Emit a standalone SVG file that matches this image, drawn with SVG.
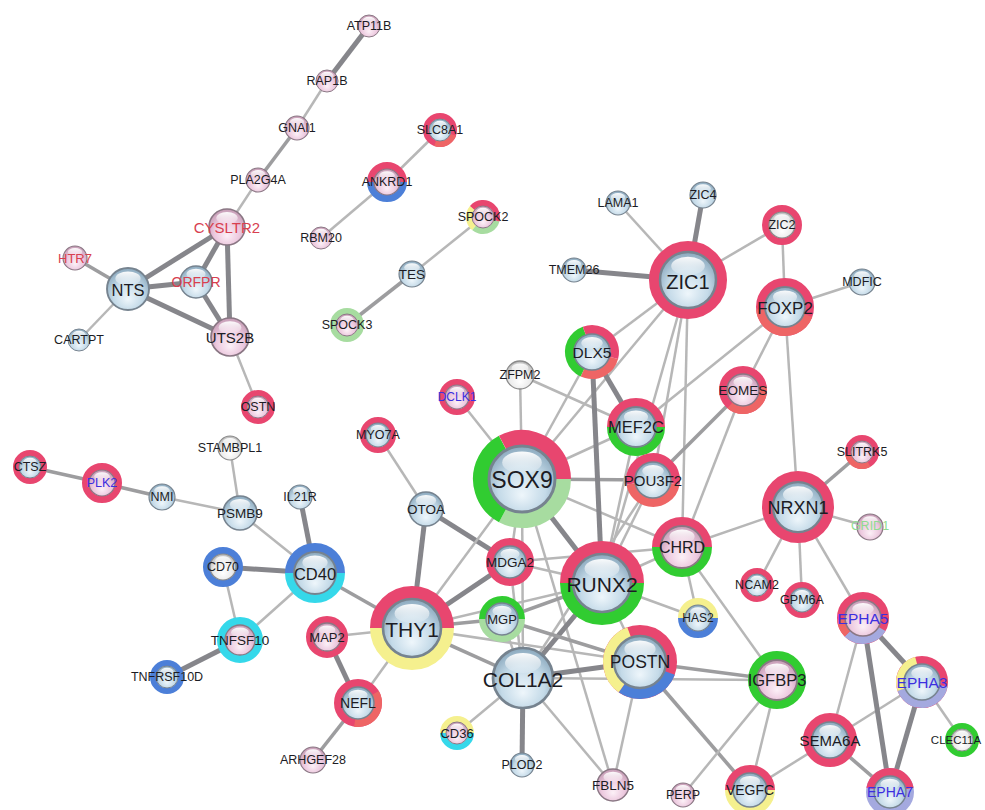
<svg xmlns="http://www.w3.org/2000/svg" xmlns:xlink="http://www.w3.org/1999/xlink" width="985" height="810" viewBox="0 0 985 810">
<style>
.a{stroke:#b7b7b7;stroke-width:2.5}
.b{stroke:#9d9d9f;stroke-width:3.6}
.c{stroke:#86868b;stroke-width:5}
.rR{fill:none;stroke:#e8466f}
.rS{fill:none;stroke:#ee6565}
.rG{fill:none;stroke:#31cc31}
.rL{fill:none;stroke:#a7dca0}
.rY{fill:none;stroke:#f5f08e}
.rB{fill:none;stroke:#4c7fd8}
.rC{fill:none;stroke:#35d8ea}
.rV{fill:none;stroke:#a4a9df}
text{font-family:"Liberation Sans",Arial,sans-serif;text-anchor:middle;dominant-baseline:central;fill:#1c1c24}
.red{fill:#d8404f}
.blu{fill:#3c2fe0}
.grn{fill:#90dc90}
</style>
<defs>
<radialGradient id="gB" cx="0.5" cy="0.6" r="0.6" fx="0.5" fy="0.75">
<stop offset="0" stop-color="#eef6fb"/><stop offset="0.6" stop-color="#c4dae8"/><stop offset="1" stop-color="#8aa8bd"/>
</radialGradient>
<radialGradient id="gP" cx="0.5" cy="0.6" r="0.6" fx="0.5" fy="0.75">
<stop offset="0" stop-color="#fcf0f7"/><stop offset="0.6" stop-color="#ecc8de"/><stop offset="1" stop-color="#c49bb4"/>
</radialGradient>
<radialGradient id="gW" cx="0.5" cy="0.6" r="0.6" fx="0.5" fy="0.75">
<stop offset="0" stop-color="#ffffff"/><stop offset="0.6" stop-color="#ececec"/><stop offset="1" stop-color="#b8b8b8"/>
</radialGradient>
<linearGradient id="gH" x1="0" y1="0" x2="0" y2="1">
<stop offset="0" stop-color="#fff" stop-opacity="0.95"/><stop offset="1" stop-color="#fff" stop-opacity="0.15"/>
</linearGradient>
<g id="sB"><circle r="10" fill="url(#gB)" stroke="#76838f" stroke-width="0.9"/><ellipse cy="-5" rx="6" ry="3.3" fill="url(#gH)"/></g>
<g id="sP"><circle r="10" fill="url(#gP)" stroke="#8a7784" stroke-width="0.9"/><ellipse cy="-5" rx="6" ry="3.3" fill="url(#gH)"/></g>
<g id="sW"><circle r="10" fill="url(#gW)" stroke="#8a8a8a" stroke-width="0.9"/><ellipse cy="-5" rx="6" ry="3.3" fill="url(#gH)"/></g>
</defs>
<rect width="985" height="810" fill="#ffffff"/>
<g id="edges">
<line class="c" x1="369" y1="26" x2="327" y2="81"/>
<line class="a" x1="327" y1="81" x2="297" y2="128"/>
<line class="b" x1="297" y1="128" x2="258" y2="180"/>
<line class="a" x1="258" y1="180" x2="227" y2="227"/>
<line class="c" x1="227" y1="227" x2="128" y2="289"/>
<line class="c" x1="227" y1="227" x2="196" y2="282"/>
<line class="c" x1="227" y1="227" x2="230" y2="337"/>
<line class="c" x1="128" y1="289" x2="196" y2="282"/>
<line class="c" x1="128" y1="289" x2="230" y2="337"/>
<line class="c" x1="196" y1="282" x2="230" y2="337"/>
<line class="b" x1="75" y1="258" x2="128" y2="289"/>
<line class="a" x1="128" y1="289" x2="79" y2="340"/>
<line class="a" x1="230" y1="337" x2="258" y2="407"/>
<line class="a" x1="440" y1="130" x2="387" y2="182"/>
<line class="a" x1="387" y1="182" x2="321" y2="238"/>
<line class="a" x1="483" y1="217" x2="412" y2="274"/>
<line class="b" x1="412" y1="274" x2="347" y2="325"/>
<line class="b" x1="30" y1="467" x2="102" y2="483"/>
<line class="b" x1="102" y1="483" x2="162" y2="497"/>
<line class="a" x1="162" y1="497" x2="240" y2="513"/>
<line class="a" x1="230" y1="448" x2="240" y2="513"/>
<line class="a" x1="240" y1="513" x2="315" y2="573"/>
<line class="c" x1="300" y1="497" x2="315" y2="573"/>
<line class="c" x1="223" y1="567" x2="315" y2="573"/>
<line class="a" x1="223" y1="567" x2="240" y2="640"/>
<line class="a" x1="315" y1="573" x2="240" y2="640"/>
<line class="c" x1="240" y1="640" x2="167" y2="677"/>
<line class="b" x1="315" y1="573" x2="412" y2="628"/>
<line class="a" x1="327" y1="637" x2="412" y2="628"/>
<line class="c" x1="327" y1="637" x2="358" y2="703"/>
<line class="a" x1="358" y1="703" x2="412" y2="628"/>
<line class="b" x1="358" y1="703" x2="313" y2="760"/>
<line class="a" x1="378" y1="435" x2="426" y2="509"/>
<line class="c" x1="426" y1="509" x2="412" y2="628"/>
<line class="c" x1="426" y1="509" x2="510" y2="562"/>
<line class="c" x1="412" y1="628" x2="510" y2="562"/>
<line class="a" x1="412" y1="628" x2="522" y2="479"/>
<line class="b" x1="412" y1="628" x2="502" y2="619"/>
<line class="a" x1="412" y1="628" x2="602" y2="583"/>
<line class="b" x1="412" y1="628" x2="523" y2="678"/>
<line class="a" x1="412" y1="628" x2="640" y2="662"/>
<line class="a" x1="522" y1="479" x2="520" y2="375"/>
<line class="a" x1="522" y1="479" x2="457" y2="397"/>
<line class="a" x1="522" y1="479" x2="592" y2="352"/>
<line class="a" x1="522" y1="479" x2="688" y2="280"/>
<line class="a" x1="522" y1="479" x2="636" y2="427"/>
<line class="b" x1="522" y1="479" x2="653" y2="480"/>
<line class="c" x1="522" y1="479" x2="602" y2="583"/>
<line class="a" x1="522" y1="479" x2="682" y2="547"/>
<line class="a" x1="522" y1="479" x2="510" y2="562"/>
<line class="a" x1="522" y1="479" x2="523" y2="678"/>
<line class="a" x1="522" y1="479" x2="613" y2="785"/>
<line class="a" x1="520" y1="375" x2="636" y2="427"/>
<line class="a" x1="592" y1="352" x2="688" y2="280"/>
<line class="c" x1="592" y1="352" x2="636" y2="427"/>
<line class="c" x1="592" y1="352" x2="602" y2="583"/>
<line class="a" x1="688" y1="280" x2="618" y2="203"/>
<line class="c" x1="688" y1="280" x2="703" y2="195"/>
<line class="c" x1="688" y1="280" x2="574" y2="270"/>
<line class="a" x1="688" y1="280" x2="782" y2="225"/>
<line class="a" x1="688" y1="280" x2="653" y2="480"/>
<line class="a" x1="688" y1="280" x2="682" y2="547"/>
<line class="a" x1="688" y1="280" x2="602" y2="583"/>
<line class="a" x1="782" y1="225" x2="785" y2="307"/>
<line class="a" x1="785" y1="307" x2="862" y2="282"/>
<line class="a" x1="785" y1="307" x2="743" y2="390"/>
<line class="a" x1="785" y1="307" x2="798" y2="507"/>
<line class="a" x1="785" y1="307" x2="636" y2="427"/>
<line class="b" x1="743" y1="390" x2="653" y2="480"/>
<line class="a" x1="743" y1="390" x2="682" y2="547"/>
<line class="a" x1="798" y1="507" x2="682" y2="547"/>
<line class="b" x1="798" y1="507" x2="862" y2="452"/>
<line class="a" x1="798" y1="507" x2="870" y2="527"/>
<line class="a" x1="798" y1="507" x2="757" y2="585"/>
<line class="a" x1="798" y1="507" x2="802" y2="600"/>
<line class="a" x1="798" y1="507" x2="863" y2="618"/>
<line class="a" x1="682" y1="547" x2="698" y2="618"/>
<line class="a" x1="682" y1="547" x2="777" y2="680"/>
<line class="a" x1="682" y1="547" x2="602" y2="583"/>
<line class="a" x1="682" y1="547" x2="510" y2="562"/>
<line class="a" x1="602" y1="583" x2="698" y2="618"/>
<line class="a" x1="602" y1="583" x2="640" y2="662"/>
<line class="c" x1="602" y1="583" x2="523" y2="678"/>
<line class="b" x1="602" y1="583" x2="502" y2="619"/>
<line class="a" x1="602" y1="583" x2="510" y2="562"/>
<line class="a" x1="636" y1="427" x2="602" y2="583"/>
<line class="a" x1="653" y1="480" x2="602" y2="583"/>
<line class="a" x1="653" y1="480" x2="523" y2="678"/>
<line class="a" x1="502" y1="619" x2="523" y2="678"/>
<line class="b" x1="502" y1="619" x2="640" y2="662"/>
<line class="a" x1="510" y1="562" x2="523" y2="678"/>
<line class="c" x1="523" y1="678" x2="640" y2="662"/>
<line class="a" x1="523" y1="678" x2="457" y2="733"/>
<line class="c" x1="523" y1="678" x2="522" y2="765"/>
<line class="a" x1="523" y1="678" x2="613" y2="785"/>
<line class="a" x1="523" y1="678" x2="777" y2="680"/>
<line class="a" x1="640" y1="662" x2="613" y2="785"/>
<line class="b" x1="640" y1="662" x2="777" y2="680"/>
<line class="b" x1="640" y1="662" x2="750" y2="790"/>
<line class="a" x1="777" y1="680" x2="750" y2="790"/>
<line class="a" x1="777" y1="680" x2="683" y2="795"/>
<line class="a" x1="830" y1="740" x2="750" y2="790"/>
<line class="a" x1="830" y1="740" x2="863" y2="618"/>
<line class="a" x1="830" y1="740" x2="922" y2="682"/>
<line class="b" x1="830" y1="740" x2="890" y2="792"/>
<line class="c" x1="863" y1="618" x2="922" y2="682"/>
<line class="c" x1="863" y1="618" x2="890" y2="792"/>
<line class="c" x1="922" y1="682" x2="890" y2="792"/>
<line class="a" x1="922" y1="682" x2="962" y2="740"/>
</g>
<g id="nodes" font-size="12.5">
<g id="ATP11B"><use href="#sP" transform="translate(369 26) scale(1.1)"/><text x="369" y="26">ATP11B</text></g>
<g id="RAP1B"><use href="#sP" transform="translate(327 81) scale(1.1)"/><text x="327" y="81">RAP1B</text></g>
<g id="GNAI1"><use href="#sP" transform="translate(297 128) scale(1.2)"/><text x="297" y="128">GNAI1</text></g>
<g id="PLA2G4A"><use href="#sP" transform="translate(258 180) scale(1.2)"/><text x="258" y="180">PLA2G4A</text></g>
<g id="CYSLTR2"><use href="#sP" transform="translate(227 227) scale(1.8)"/><text class="red" x="227" y="227" font-size="15">CYSLTR2</text></g>
<g id="HTR7"><use href="#sP" transform="translate(75 258) scale(1.2)"/><text class="red" x="75" y="258" font-size="13">HTR7</text></g>
<g id="NTS"><use href="#sB" transform="translate(128 289) scale(2.1)"/><text x="128" y="290" font-size="16.5">NTS</text></g>
<g id="ORFPR"><use href="#sB" transform="translate(196 282) scale(1.6)"/><text class="red" x="196" y="282" font-size="14">ORFPR</text></g>
<g id="UTS2B"><use href="#sP" transform="translate(230 337) scale(1.9)"/><text x="230" y="337" font-size="15">UTS2B</text></g>
<g id="CARTPT"><use href="#sB" transform="translate(79 340) scale(1.1)"/><text x="79" y="340">CARTPT</text></g>
<g id="OSTN"><circle class="rR" cx="258" cy="407" r="14" stroke-width="6"/><use href="#sP" transform="translate(258 407) scale(1.1)"/><text x="258" y="407">OSTN</text></g>
<g id="RBM20"><use href="#sP" transform="translate(321 238) scale(1.1)"/><text x="321" y="238">RBM20</text></g>
<g id="SLC8A1"><circle class="rR" cx="440" cy="130" r="14" stroke-width="6"/><circle class="rS" cx="440" cy="130" r="14" stroke-width="6" pathLength="100" stroke-dasharray="25 100" transform="rotate(20 440 130)"/><use href="#sB" transform="translate(440 130) scale(1.1)"/><text x="440" y="130">SLC8A1</text></g>
<g id="ANKRD1"><circle class="rR" cx="387" cy="182" r="16.5" stroke-width="7" pathLength="100" stroke-dasharray="50 100" transform="rotate(180 387 182)"/><circle class="rB" cx="387" cy="182" r="16.5" stroke-width="7" pathLength="100" stroke-dasharray="50 100"/><use href="#sP" transform="translate(387 182) scale(1.3)"/><text x="387" y="182">ANKRD1</text></g>
<g id="SPOCK2"><circle class="rL" cx="483" cy="217" r="14" stroke-width="6" pathLength="100" stroke-dasharray="32 100" transform="rotate(15 483 217)"/><circle class="rY" cx="483" cy="217" r="14" stroke-width="6" pathLength="100" stroke-dasharray="25 100" transform="rotate(130 483 217)"/><circle class="rR" cx="483" cy="217" r="14" stroke-width="6" pathLength="100" stroke-dasharray="43.2 100" transform="rotate(220 483 217)"/><use href="#sP" transform="translate(483 217) scale(1.1)"/><text x="483" y="217">SPOCK2</text></g>
<g id="TES"><use href="#sB" transform="translate(412 274) scale(1.3)"/><text x="412" y="274" font-size="13.5">TES</text></g>
<g id="SPOCK3"><circle class="rL" cx="347" cy="325" r="14" stroke-width="6"/><use href="#sP" transform="translate(347 325) scale(1.1)"/><text x="347" y="325">SPOCK3</text></g>
<g id="LAMA1"><use href="#sB" transform="translate(618 203) scale(1.2)"/><text x="618" y="203">LAMA1</text></g>
<g id="ZIC4"><use href="#sB" transform="translate(703 195) scale(1.3)"/><text x="703" y="195">ZIC4</text></g>
<g id="TMEM26"><use href="#sB" transform="translate(574 270) scale(1.2)"/><text x="574" y="270">TMEM26</text></g>
<g id="ZIC2"><circle class="rR" cx="782" cy="225" r="16.5" stroke-width="7"/><use href="#sW" transform="translate(782 225) scale(1.3)"/><text x="782" y="225">ZIC2</text></g>
<g id="ZIC1"><circle class="rR" cx="688" cy="280" r="33.5" stroke-width="11"/><use href="#sB" transform="translate(688 280) scale(2.8)"/><text x="688" y="282" font-size="20">ZIC1</text></g>
<g id="FOXP2"><circle class="rR" cx="785" cy="307" r="24.5" stroke-width="9"/><circle class="rS" cx="785" cy="307" r="24.5" stroke-width="9" pathLength="100" stroke-dasharray="43 100" transform="rotate(20 785 307)"/><use href="#sB" transform="translate(785 307) scale(2)"/><text x="785" y="308" font-size="17">FOXP2</text></g>
<g id="MDFIC"><use href="#sB" transform="translate(862 282) scale(1.3)"/><text x="862" y="282">MDFIC</text></g>
<g id="EOMES"><circle class="rR" cx="743" cy="390" r="20" stroke-width="8"/><circle class="rS" cx="743" cy="390" r="20" stroke-width="8" pathLength="100" stroke-dasharray="39 100" transform="rotate(-10 743 390)"/><use href="#sP" transform="translate(743 390) scale(1.6)"/><text x="743" y="390" font-size="13.5">EOMES</text></g>
<g id="DLX5"><circle class="rS" cx="592" cy="352" r="22.5" stroke-width="9" pathLength="100" stroke-dasharray="27.8 100" transform="rotate(15 592 352)"/><circle class="rG" cx="592" cy="352" r="22.5" stroke-width="9" pathLength="100" stroke-dasharray="37.5 100" transform="rotate(115 592 352)"/><circle class="rR" cx="592" cy="352" r="22.5" stroke-width="9" pathLength="100" stroke-dasharray="34.8 100" transform="rotate(250 592 352)"/><use href="#sB" transform="translate(592 352) scale(1.8)"/><text x="592" y="352" font-size="15.5">DLX5</text></g>
<g id="ZFPM2"><use href="#sW" transform="translate(520 375) scale(1.4)"/><text x="520" y="375">ZFPM2</text></g>
<g id="DCLK1"><circle class="rR" cx="457" cy="397" r="15" stroke-width="6"/><use href="#sP" transform="translate(457 397) scale(1.2)"/><text class="blu" x="457" y="397" font-size="12">DCLK1</text></g>
<g id="MYO7A"><circle class="rR" cx="378" cy="435" r="15" stroke-width="6"/><use href="#sB" transform="translate(378 435) scale(1.2)"/><text x="378" y="435">MYO7A</text></g>
<g id="MEF2C"><circle class="rR" cx="636" cy="427" r="24.5" stroke-width="9" pathLength="100" stroke-dasharray="50 100" transform="rotate(180 636 427)"/><circle class="rG" cx="636" cy="427" r="24.5" stroke-width="9" pathLength="100" stroke-dasharray="50 100"/><use href="#sB" transform="translate(636 427) scale(2)"/><text x="636" y="427" font-size="16.5">MEF2C</text></g>
<g id="SOX9"><circle class="rL" cx="522" cy="479" r="41" stroke-width="16" pathLength="100" stroke-dasharray="32.8 100"/><circle class="rG" cx="522" cy="479" r="41" stroke-width="16" pathLength="100" stroke-dasharray="34.4 100" transform="rotate(118 522 479)"/><circle class="rR" cx="522" cy="479" r="41" stroke-width="16" pathLength="100" stroke-dasharray="32.8 100" transform="rotate(242 522 479)"/><use href="#sB" transform="translate(522 479) scale(3.3)"/><text x="522" y="480" font-size="23">SOX9</text></g>
<g id="POU3F2"><circle class="rR" cx="653" cy="480" r="22.5" stroke-width="9" pathLength="100" stroke-dasharray="55.6 100" transform="rotate(170 653 480)"/><circle class="rS" cx="653" cy="480" r="22.5" stroke-width="9" pathLength="100" stroke-dasharray="44.4 100" transform="rotate(10 653 480)"/><use href="#sB" transform="translate(653 480) scale(1.8)"/><text x="653" y="480" font-size="15">POU3F2</text></g>
<g id="STAMBPL1"><use href="#sW" transform="translate(230 448) scale(1.2)"/><text x="230" y="448">STAMBPL1</text></g>
<g id="CTSZ"><circle class="rR" cx="30" cy="467" r="14" stroke-width="6"/><use href="#sB" transform="translate(30 467) scale(1.1)"/><text x="30" y="467">CTSZ</text></g>
<g id="PLK2"><circle class="rR" cx="102" cy="483" r="16.5" stroke-width="7"/><use href="#sP" transform="translate(102 483) scale(1.3)"/><text class="blu" x="102" y="483">PLK2</text></g>
<g id="NMI"><use href="#sB" transform="translate(162 497) scale(1.3)"/><text x="162" y="497">NMI</text></g>
<g id="PSMB9"><use href="#sB" transform="translate(240 513) scale(1.7)"/><text x="240" y="513" font-size="13.5">PSMB9</text></g>
<g id="IL21R"><use href="#sB" transform="translate(300 497) scale(1.2)"/><text x="300" y="497">IL21R</text></g>
<g id="OTOA"><use href="#sB" transform="translate(426 509) scale(1.7)"/><text x="426" y="509" font-size="13.5">OTOA</text></g>
<g id="SLITRK5"><circle class="rR" cx="862" cy="452" r="14" stroke-width="6"/><circle class="rS" cx="862" cy="452" r="14" stroke-width="6" pathLength="100" stroke-dasharray="30.6 100" transform="rotate(60 862 452)"/><use href="#sP" transform="translate(862 452) scale(1.1)"/><text x="862" y="452">SLITRK5</text></g>
<g id="NRXN1"><circle class="rR" cx="798" cy="507" r="30.5" stroke-width="11"/><use href="#sB" transform="translate(798 507) scale(2.5)"/><text x="798" y="508" font-size="18">NRXN1</text></g>
<g id="GRID1"><use href="#sP" transform="translate(870 527) scale(1.3)"/><text class="grn" x="870" y="526">GRID1</text></g>
<g id="CHRD"><circle class="rR" cx="682" cy="547" r="25.5" stroke-width="9" pathLength="100" stroke-dasharray="50 100" transform="rotate(180 682 547)"/><circle class="rG" cx="682" cy="547" r="25.5" stroke-width="9" pathLength="100" stroke-dasharray="50 100"/><use href="#sP" transform="translate(682 547) scale(2.1)"/><text x="682" y="547" font-size="16">CHRD</text></g>
<g id="MDGA2"><circle class="rR" cx="510" cy="562" r="20" stroke-width="8"/><use href="#sB" transform="translate(510 562) scale(1.6)"/><text x="510" y="562" font-size="13.5">MDGA2</text></g>
<g id="RUNX2"><circle class="rR" cx="602" cy="583" r="35.5" stroke-width="13" pathLength="100" stroke-dasharray="50 100" transform="rotate(180 602 583)"/><circle class="rG" cx="602" cy="583" r="35.5" stroke-width="13" pathLength="100" stroke-dasharray="50 100"/><use href="#sB" transform="translate(602 583) scale(2.9)"/><text x="602" y="584" font-size="21">RUNX2</text></g>
<g id="CD70"><circle class="rB" cx="223" cy="567" r="16.5" stroke-width="7"/><use href="#sW" transform="translate(223 567) scale(1.3)"/><text x="223" y="567">CD70</text></g>
<g id="CD40"><circle class="rB" cx="315" cy="573" r="25.5" stroke-width="9" pathLength="100" stroke-dasharray="50 100" transform="rotate(180 315 573)"/><circle class="rC" cx="315" cy="573" r="25.5" stroke-width="9" pathLength="100" stroke-dasharray="50 100"/><use href="#sB" transform="translate(315 573) scale(2.1)"/><text x="315" y="574" font-size="16.5">CD40</text></g>
<g id="NCAM2"><circle class="rR" cx="757" cy="585" r="14" stroke-width="6"/><use href="#sB" transform="translate(757 585) scale(1.1)"/><text x="757" y="585">NCAM2</text></g>
<g id="GPM6A"><circle class="rR" cx="802" cy="600" r="15" stroke-width="6"/><use href="#sB" transform="translate(802 600) scale(1.2)"/><text x="802" y="600">GPM6A</text></g>
<g id="HAS2"><circle class="rY" cx="698" cy="618" r="16.5" stroke-width="7" pathLength="100" stroke-dasharray="50 100" transform="rotate(180 698 618)"/><circle class="rB" cx="698" cy="618" r="16.5" stroke-width="7" pathLength="100" stroke-dasharray="50 100"/><use href="#sB" transform="translate(698 618) scale(1.3)"/><text x="698" y="618" font-size="12">HAS2</text></g>
<g id="MGP"><circle class="rG" cx="502" cy="619" r="19.5" stroke-width="7" pathLength="100" stroke-dasharray="50 100" transform="rotate(180 502 619)"/><circle class="rL" cx="502" cy="619" r="19.5" stroke-width="7" pathLength="100" stroke-dasharray="50 100"/><use href="#sB" transform="translate(502 619) scale(1.6)"/><text x="502" y="619" font-size="13">MGP</text></g>
<g id="THY1"><circle class="rR" cx="412" cy="628" r="35.5" stroke-width="13" pathLength="100" stroke-dasharray="50 100" transform="rotate(180 412 628)"/><circle class="rY" cx="412" cy="628" r="35.5" stroke-width="13" pathLength="100" stroke-dasharray="50 100"/><use href="#sB" transform="translate(412 628) scale(2.9)"/><text x="412" y="629" font-size="21">THY1</text></g>
<g id="EPHA5"><circle class="rR" cx="863" cy="618" r="22" stroke-width="8"/><circle class="rV" cx="863" cy="618" r="22" stroke-width="8" pathLength="100" stroke-dasharray="29.2 100" transform="rotate(30 863 618)"/><circle class="rS" cx="863" cy="618" r="22" stroke-width="8" pathLength="100" stroke-dasharray="11.1 100" transform="rotate(135 863 618)"/><use href="#sP" transform="translate(863 618) scale(1.8)"/><text class="blu" x="863" y="618" font-size="15.5">EPHA5</text></g>
<g id="TNFSF10"><circle class="rC" cx="240" cy="640" r="19" stroke-width="8"/><use href="#sP" transform="translate(240 640) scale(1.5)"/><text x="240" y="640" font-size="13.5">TNFSF10</text></g>
<g id="MAP2"><circle class="rR" cx="327" cy="637" r="17.5" stroke-width="7"/><use href="#sP" transform="translate(327 637) scale(1.4)"/><text x="327" y="637" font-size="13">MAP2</text></g>
<g id="TNFRSF10D"><circle class="rB" cx="167" cy="677" r="14" stroke-width="6"/><use href="#sB" transform="translate(167 677) scale(1.1)"/><text x="167" y="677">TNFRSF10D</text></g>
<g id="POSTN"><circle class="rR" cx="640" cy="662" r="31.5" stroke-width="11"/><circle class="rB" cx="640" cy="662" r="31.5" stroke-width="11" pathLength="100" stroke-dasharray="29.2 100" transform="rotate(20 640 662)"/><circle class="rY" cx="640" cy="662" r="31.5" stroke-width="11" pathLength="100" stroke-dasharray="34.7 100" transform="rotate(125 640 662)"/><use href="#sB" transform="translate(640 662) scale(2.6)"/><text x="640" y="662" font-size="17.5">POSTN</text></g>
<g id="COL1A2"><use href="#sB" transform="translate(523 678) scale(3)"/><text x="523" y="679" font-size="21">COL1A2</text></g>
<g id="IGFBP3"><circle class="rG" cx="777" cy="680" r="24.5" stroke-width="9"/><use href="#sP" transform="translate(777 680) scale(2)"/><text x="777" y="680" font-size="16.5">IGFBP3</text></g>
<g id="EPHA3"><circle class="rR" cx="922" cy="682" r="22" stroke-width="8"/><circle class="rV" cx="922" cy="682" r="22" stroke-width="8" pathLength="100" stroke-dasharray="41.7 100" transform="rotate(10 922 682)"/><circle class="rY" cx="922" cy="682" r="22" stroke-width="8" pathLength="100" stroke-dasharray="26.4 100" transform="rotate(160 922 682)"/><use href="#sB" transform="translate(922 682) scale(1.8)"/><text class="blu" x="922" y="682" font-size="15.5">EPHA3</text></g>
<g id="NEFL"><circle class="rR" cx="358" cy="703" r="20" stroke-width="8"/><circle class="rS" cx="358" cy="703" r="20" stroke-width="8" pathLength="100" stroke-dasharray="36 100" transform="rotate(-30 358 703)"/><use href="#sB" transform="translate(358 703) scale(1.6)"/><text x="358" y="703" font-size="14">NEFL</text></g>
<g id="SEMA6A"><circle class="rR" cx="830" cy="740" r="22.5" stroke-width="9"/><use href="#sB" transform="translate(830 740) scale(1.8)"/><text x="830" y="740" font-size="15">SEMA6A</text></g>
<g id="CLEC11A"><circle class="rG" cx="962" cy="740" r="14" stroke-width="6"/><use href="#sW" transform="translate(962 740) scale(1.1)"/><text x="956" y="740" font-size="11.5">CLEC11A</text></g>
<g id="CD36"><circle class="rY" cx="457" cy="733" r="14" stroke-width="6" pathLength="100" stroke-dasharray="50 100" transform="rotate(180 457 733)"/><circle class="rC" cx="457" cy="733" r="14" stroke-width="6" pathLength="100" stroke-dasharray="50 100"/><use href="#sP" transform="translate(457 733) scale(1.1)"/><text x="457" y="733" font-size="13">CD36</text></g>
<g id="ARHGEF28"><use href="#sP" transform="translate(313 760) scale(1.3)"/><text x="313" y="760">ARHGEF28</text></g>
<g id="PLOD2"><use href="#sB" transform="translate(522 765) scale(1.2)"/><text x="522" y="765">PLOD2</text></g>
<g id="FBLN5"><use href="#sP" transform="translate(613 785) scale(1.6)"/><text x="613" y="785" font-size="13.5">FBLN5</text></g>
<g id="PERP"><use href="#sP" transform="translate(683 795) scale(1.2)"/><text x="683" y="795">PERP</text></g>
<g id="VEGFC"><circle class="rR" cx="750" cy="790" r="21" stroke-width="8" pathLength="100" stroke-dasharray="50 100" transform="rotate(180 750 790)"/><circle class="rY" cx="750" cy="790" r="21" stroke-width="8" pathLength="100" stroke-dasharray="50 100"/><use href="#sB" transform="translate(750 790) scale(1.7)"/><text x="750" y="790" font-size="14">VEGFC</text></g>
<g id="EPHA7"><circle class="rV" cx="890" cy="792" r="20" stroke-width="8"/><circle class="rR" cx="890" cy="792" r="20" stroke-width="8" pathLength="100" stroke-dasharray="44.4 100" transform="rotate(190 890 792)"/><use href="#sB" transform="translate(890 792) scale(1.6)"/><text class="blu" x="890" y="792" font-size="14">EPHA7</text></g>
</g>
</svg>
